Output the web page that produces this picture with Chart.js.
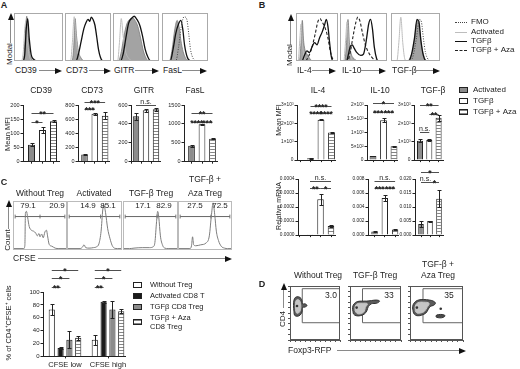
<!DOCTYPE html>
<html>
<head>
<meta charset="utf-8">
<script src="https://cdn.jsdelivr.net/npm/chart.js@4.4.1/dist/chart.umd.min.js"></script>
<style>
  body { margin: 0; background: #fff; }
  #fig { position: relative; width: 520px; height: 369px; overflow: hidden;
         font-family: "Liberation Sans", Arial, sans-serif; color: #222; }
  #fig canvas { position: absolute; }
</style>
</head>
<body>
<div id="fig"></div>
<script>
const FONT = '"Liberation Sans", Arial, sans-serif';
Chart.defaults.font.family = FONT;
Chart.defaults.color = '#222';

// ---- A: surface markers, Mean MFI ----
const groups = ['Activated', 'TGFβ', 'TGFβ + Aza'];
const cd39Mfi = [60, 112, 143];
const cd39Err = [5, 10, 3];
const cd73Mfi = [100, 675, 650];
const cd73Err = [6, 10, 45];
const gitrMfi = [480, 545, 555];
const gitrErr = [40, 15, 15];
const faslMfi = [420, 990, 610];
const faslErr = [30, 8, 8];
// significance: [bar a, bar b, height, label]
const cd39Sig = [[0, 1, 141, '*'], [0, 2, 172, '**']];
const cd73Sig = [[0, 1, 745, '***'], [0, 2, 841, '***']];
const gitrSig = [[0, 2, 600, 'n.s.']];
const faslSig = [[0, 1, 1060, '****'], [1, 2, 1060, '***'], [0, 2, 1293, '**']];

// ---- B: cytokines ----
const il4Mfi = [100, 2200, 1500];
const il4Err = [20, 15, 15];
const il10Mfi = [150, 1450, 500];
const il10Err = [15, 70, 15];
const tgfbMfi = [1050, 1100, 2300];
const tgfbErr = [80, 60, 150];
const il4Sig = [[0, 1, 2571, '****'], [1, 2, 2571, '****'], [0, 2, 2946, '****']];
const il10Sig = [[0, 1, 1750, '***'], [1, 2, 1750, '***'], [0, 2, 2071, '*']];
const tgfbSig = [[0, 1, 1553, 'n.s.'], [1, 2, 2518, '**'], [0, 2, 3000, '**']];

const il4Rna = [0.000002, 0.000255, 0.000065];
const il4RnaErr = [0, 0.00004, 0.00001];
const il10Rna = [0.0005, 0.0053, 0.0008];
const il10RnaErr = [0.00005, 0.0004, 0.00005];
const tgfbRna = [0.004, 0.005, 0.013];
const tgfbRnaErr = [0.0012, 0.0002, 0.003];
const il4RnaSig = [[0, 1, 0.000337, '**'], [1, 2, 0.000337, '*'], [0, 2, 0.000386, 'n.s.']];
const il10RnaSig = [[0, 1, 0.0067, '***'], [1, 2, 0.0067, '***'], [0, 2, 0.0077, 'n.s.']];
const tgfbRnaSig = [[0, 1, 0.0189, 'n.s.'], [1, 2, 0.0189, '*'], [0, 2, 0.0225, '*']];

// ---- C: suppression (CFSE) ----
const cfseCats = ['CFSE low', 'CFSE high'];
const cfseSeries = ['Without Treg', 'Activated CD8 T', 'TGFβ CD8 Treg', 'TGFβ + Aza', 'CD8 Treg'];
const withoutTreg = [73, 26];
const withoutTregErr = [8, 8];
const activatedCd8 = [13, 85];
const activatedCd8Err = [1.5, 1.5];
const tgfbCd8 = [26, 73];
const tgfbCd8Err = [13, 13];
const tgfbAzaCd8 = [29, 70];
const tgfbAzaCd8Err = [3, 3];
// [[series, cat], [series, cat], height, label]
const cfseSig = [
  [[0, 0], [1, 0], 108, '**'], [[0, 0], [2, 0], 122, '*'], [[0, 0], [3, 0], 134, '*'],
  [[0, 1], [1, 1], 108, '**'], [[0, 1], [2, 1], 122, '*'], [[0, 1], [3, 1], 134, '*']
];
const cfseHeads = ['Without Treg', 'Activated', 'TGF-β Treg', 'Aza Treg'];
const cfseGates = [['79.1', '20.9'], ['14.9', '85.1'], ['17.1', '82.9'], ['27.5', '72.5']];
const cfseSplit = [50, 61, 62, 61];

// ---- histogram curves, [x %, y %] ----
const cd39Hist = {
  fill: [[0,0],[17,0],[20,8],[23,55],[26,97],[29,55],[32,18],[36,4],[42,0],[100,0]],
  light: [[0,0],[15,0],[19,20],[22,70],[25,88],[28,40],[32,8],[38,0],[100,0]],
  black: [[0,0],[18,0],[22,15],[25,70],[28,92],[31,50],[35,14],[41,3],[50,0],[100,0]]
};
const cd73Hist = {
  fill: [[0,0],[15,0],[19,30],[22,92],[25,55],[29,22],[34,8],[42,0],[100,0]],
  light: [[0,0],[12,0],[16,40],[20,96],[23,60],[27,25],[33,5],[40,0],[100,0]],
  black: [[0,0],[24,0],[29,14],[35,42],[41,70],[46,84],[50,90],[54,86],[57,95],[61,90],[65,78],[69,52],[73,24],[77,8],[82,0],[100,0]]
};
const gitrHist = {
  fill: [[0,0],[12,0],[18,20],[24,55],[30,80],[36,90],[42,94],[48,88],[54,75],[60,50],[66,22],[72,6],[78,0],[100,0]],
  light: [[0,0],[10,0],[14,40],[18,92],[22,55],[27,22],[34,6],[44,0],[100,0]],
  black: [[0,0],[16,0],[22,15],[28,50],[34,82],[40,92],[46,97],[52,90],[58,78],[64,55],[70,25],[76,8],[82,0],[100,0]]
};
const faslHist = {
  fill: [[0,0],[16,0],[22,25],[28,70],[33,88],[37,75],[41,45],[46,20],[52,5],[58,0],[100,0]],
  black: [[0,0],[18,0],[24,25],[30,60],[36,80],[41,88],[45,70],[49,35],[55,8],[62,0],[100,0]],
  dot: [[0,0],[30,0],[36,30],[42,75],[48,96],[54,90],[58,60],[62,25],[68,5],[74,0],[100,0]]
};
const il4Hist = {
  fill: [[0,0],[8,0],[12,40],[15,88],[18,45],[22,22],[27,14],[33,5],[40,0],[100,0]],
  light: [[0,0],[5,0],[9,45],[12,80],[15,40],[19,10],[26,0],[100,0]],
  dash: [[0,0],[22,0],[30,10],[38,30],[46,60],[52,85],[57,92],[62,85],[70,70],[76,50],[82,20],[88,3],[92,0],[100,0]],
  black: [[0,0],[14,0],[20,12],[26,22],[32,18],[38,30],[44,40],[50,35],[56,50],[62,62],[68,78],[72,90],[76,75],[80,40],[84,10],[88,0],[100,0]]
};
const il10Hist = {
  fill: [[0,0],[10,0],[14,40],[17,90],[20,40],[24,15],[30,5],[38,0],[100,0]],
  light: [[0,0],[8,0],[12,45],[15,85],[18,40],[23,10],[30,0],[100,0]],
  dash: [[0,0],[16,0],[22,20],[28,55],[34,85],[38,95],[42,88],[48,60],[54,35],[60,20],[66,10],[74,2],[80,0],[100,0]],
  black: [[0,0],[14,0],[18,15],[22,32],[26,35],[30,28],[36,18],[44,12],[50,15],[56,45],[61,80],[65,90],[69,70],[73,30],[78,5],[82,0],[100,0]]
};
const tgfbHist = {
  fill: [[0,0],[34,0],[40,10],[46,30],[52,80],[55,88],[58,70],[62,35],[68,8],[74,0],[100,0]],
  light: [[0,0],[12,0],[16,40],[20,95],[24,40],[28,5],[32,0],[100,0]],
  black: [[0,0],[36,0],[42,15],[48,50],[53,90],[57,85],[61,45],[66,12],[72,0],[100,0]],
  dot: [[0,0],[40,0],[46,15],[52,50],[58,90],[62,85],[66,50],[70,20],[76,3],[80,0],[100,0]]
};
const cfseWithout = [[0,3],[20,3],[22,10],[23,78],[25,82],[27,70],[30,50],[34,42],[38,40],[42,36],[45,30],[48,35],[50,28],[53,34],[56,26],[59,38],[62,42],[64,30],[67,12],[72,8],[78,4],[85,3],[100,3]];
const cfseActivated = [[0,3],[24,3],[28,6],[31,11],[34,5],[40,4],[48,5],[54,7],[58,13],[62,40],[65,85],[67,96],[70,80],[74,45],[78,25],[82,10],[86,4],[92,3],[100,3]];
const cfseTgfb = [[0,3],[12,3],[20,4],[35,5],[48,5],[55,7],[58,16],[61,60],[63,82],[65,70],[68,30],[72,10],[76,4],[82,3],[100,3]];
const cfseAza = [[0,3],[22,3],[25,9],[27,28],[29,11],[33,9],[42,11],[52,15],[58,30],[62,75],[65,100],[68,75],[71,40],[75,20],[80,8],[86,4],[92,3],[100,3]];

// ---- D: Foxp3 contours, [x %, y %] ----
const foxp3Heads = ['Without Treg', 'TGF-β Treg', 'Aza Treg'];
const foxp3Pct = ['3.0', '33', '35'];
const noTregOuter = [[8,52],[7,64],[8,74],[11,79],[17,80],[22,77],[24,72],[25,67],[30,67],[34,64],[30,61],[25,60],[24,52],[20,46],[14,44],[9,46],[8,52]];
const noTregInner = [[11,56],[11,68],[13,74],[18,74],[21,68],[21,56],[17,50],[13,50],[11,56]];
const noTregCore = [[14,63]];
const tgfbOuter = [[6,52],[5,60],[8,67],[14,71],[22,72],[32,72],[42,73],[52,74],[58,72],[52,68],[42,67],[36,62],[33,54],[28,48],[20,45],[12,45],[7,48],[6,52]];
const tgfbInner = [[10,54],[10,62],[14,67],[24,68],[34,67],[30,60],[28,53],[22,49],[14,49],[10,54]];
const tgfbCore = [[13,60]];
const azaOuter = [[6,52],[5,62],[9,70],[16,74],[26,75],[36,74],[44,72],[48,68],[44,64],[38,62],[34,56],[30,50],[22,46],[13,45],[8,48],[6,52]];
const azaInner = [[10,54],[10,63],[15,69],[26,70],[36,68],[32,60],[27,53],[20,50],[13,50],[10,54]];
const azaSmall = [[50,42],[49,45],[54,47],[62,47],[66,45],[63,42],[56,41],[50,42]];
const azaCore = [[13,60], [58,58]];

// ---------------------------------------------------------------
const fig = document.getElementById('fig');

function el(css) {
  const d = document.createElement('div');
  d.style.cssText = 'position:absolute;' + css;
  fig.appendChild(d);
  return d;
}

function txt(s, x, y, size = 8, o = {}) {
  const d = el(`left:${x}px;top:${y}px;font-size:${size}px;line-height:1;white-space:nowrap;color:#222;` + (o.bold ? 'font-weight:bold;' : ''));
  d.textContent = s;
  const tx = o.align === 'left' ? '0' : '-50%';
  d.style.transform = `translate(${tx},-50%)` + (o.rot ? ` rotate(${o.rot}deg)` : '');
  return d;
}

function hArrow(x1, x2, y) {
  el(`left:${x1}px;top:${y}px;width:${x2 - x1 - 6}px;border-top:1px solid #8a8a8a;`);
  el(`left:${x2 - 7}px;top:${y - 2.5}px;border-top:3px solid transparent;border-bottom:3px solid transparent;border-left:7px solid #111;`);
}

function vArrow(x, y1, y2) {
  el(`left:${x}px;top:${y1 + 6}px;height:${y2 - y1 - 6}px;border-left:1px solid #8a8a8a;`);
  el(`left:${x - 2.5}px;top:${y1}px;border-left:3px solid transparent;border-right:3px solid transparent;border-bottom:7px solid #111;`);
}

function canvas(x, y, w, h) {
  const c = document.createElement('canvas');
  c.width = w; c.height = h;
  c.style.left = x + 'px'; c.style.top = y + 'px';
  c.style.width = w + 'px'; c.style.height = h + 'px';
  fig.appendChild(c);
  return c;
}

function makeStripes() {
  const c = document.createElement('canvas');
  c.width = 4; c.height = 3;
  const g = c.getContext('2d');
  g.fillStyle = '#fff'; g.fillRect(0, 0, 4, 3);
  g.fillStyle = '#858585'; g.fillRect(0, 0, 4, 1);
  return g.createPattern(c, 'repeat');
}
const STRIPE = makeStripes();
const STRIPE_CSS = 'repeating-linear-gradient(to bottom,#858585 0 1px,#fff 1px 3px)';
const GRAY = '#8c8c8c';
const groupFill = [GRAY, '#ffffff', STRIPE];

// plugins
const errorBars = {
  id: 'errorBars',
  afterDatasetsDraw(chart) {
    const { ctx, scales: { y } } = chart;
    ctx.save();
    ctx.strokeStyle = '#222';
    ctx.lineWidth = 1;
    chart.data.datasets.forEach((ds, i) => {
      if (!ds.err) return;
      chart.getDatasetMeta(i).data.forEach((bar, j) => {
        const v = ds.vals[j], e = ds.err[j];
        if (!e) return;
        const x = Math.round(bar.x) + 0.5;
        const y1 = Math.round(y.getPixelForValue(v + e)) + 0.5;
        const y0 = Math.round(y.getPixelForValue(Math.max(0, v - e))) + 0.5;
        ctx.beginPath();
        ctx.moveTo(x, y0); ctx.lineTo(x, y1);
        ctx.moveTo(x - 2, y1); ctx.lineTo(x + 2, y1);
        ctx.moveTo(x - 2, y0); ctx.lineTo(x + 2, y0);
        ctx.stroke();
      });
    });
    ctx.restore();
  }
};

function sigPlugin(list) {
  return {
    id: 'sig',
    afterDraw(chart) {
      const { ctx, scales: { y } } = chart;
      ctx.save();
      ctx.strokeStyle = '#222';
      ctx.fillStyle = '#222';
      ctx.lineWidth = 0.8;
      ctx.textAlign = 'center';
      ctx.textBaseline = 'alphabetic';
      list.forEach(s => {
        const a = Array.isArray(s[0]) ? s[0] : [0, s[0]];
        const b = Array.isArray(s[1]) ? s[1] : [0, s[1]];
        const xa = chart.getDatasetMeta(a[0]).data[a[1]].x;
        const xb = chart.getDatasetMeta(b[0]).data[b[1]].x;
        const py = Math.round(y.getPixelForValue(s[2])) + 0.5;
        ctx.beginPath(); ctx.moveTo(xa, py); ctx.lineTo(xb, py); ctx.stroke();
        const ns = s[3] === 'n.s.';
        ctx.font = (ns ? '7px ' : 'bold 8.5px ') + FONT;
        ctx.fillText(s[3], (xa + xb) / 2, ns ? py - 1.5 : py + 3.8);
      });
      ctx.restore();
    }
  };
}

function frame(color) {
  return {
    id: 'frame',
    afterDraw(c) {
      const { ctx, chartArea: a } = c;
      ctx.save();
      ctx.strokeStyle = color;
      ctx.lineWidth = 1;
      ctx.strokeRect(Math.round(a.left) + 0.5, Math.round(a.top) + 0.5, Math.round(a.width) - 1, Math.round(a.height) - 1);
      ctx.restore();
    }
  };
}

// bar panel: f = geometry, sets = [{data, err, fill}]
function barPlot(f, sets, yax, sig) {
  const YW = 34, XH = 3;
  const w = YW + f.right - f.ax, h = f.pad + f.zero - f.top + XH;
  const cv = canvas(f.ax - YW, f.top - f.pad, w, h);
  const xmin = -(f.c0 - f.ax) / f.dx;
  const xmax = xmin + (f.right - f.ax) / f.dx;
  return new Chart(cv, {
    type: 'bar',
    data: {
      datasets: sets.map(s => ({
        data: s.data.map((v, i) => ({ x: i, y: v })),
        vals: s.data, err: s.err,
        backgroundColor: s.fill, borderColor: '#222', borderWidth: 1,
        barPercentage: f.bp, categoryPercentage: f.cp
      }))
    },
    options: {
      responsive: false, animation: false, devicePixelRatio: 1,
      layout: { padding: { top: f.pad, left: 0, right: 0, bottom: 0 } },
      plugins: { legend: { display: false }, tooltip: { enabled: false } },
      scales: {
        x: {
          type: 'linear', min: xmin, max: xmax, offset: false,
          grid: { offset: false, drawOnChartArea: false, tickLength: 2, color: '#222' },
          border: { color: '#222' },
          ticks: { display: false, stepSize: 1, includeBounds: false },
          afterFit: s => { s.height = XH; }
        },
        y: {
          min: 0, max: yax.max,
          grid: { drawOnChartArea: false, tickLength: 2.5, color: '#222' },
          border: { color: '#222' },
          ticks: { stepSize: yax.step, autoSkip: false, padding: 1, font: { size: yax.size || 5.5 }, callback: yax.fmt || (v => v) },
          afterFit: s => { s.width = YW; }
        }
      }
    },
    plugins: [errorBars, sigPlugin(sig)]
  });
}

const histStyle = {
  fill: { borderColor: '#7a7a7a', backgroundColor: '#a3a3a3', fill: 'origin', borderWidth: 0.8 },
  light: { borderColor: '#bdbdbd', borderWidth: 1 },
  black: { borderColor: '#111', borderWidth: 1.3 },
  dash: { borderColor: '#222', borderWidth: 1.1, borderDash: [3, 2] },
  dot: { borderColor: '#444', borderWidth: 1, borderDash: [1, 1.5] },
  grey: { borderColor: '#7d7d7d', borderWidth: 1 },
  gate: { borderColor: '#666', borderWidth: 1 }
};

function curve(pts, style) {
  return Object.assign({
    data: pts.map(([x, y]) => ({ x, y })), pointRadius: 0, fill: false,
    cubicInterpolationMode: 'monotone'
  }, histStyle[style]);
}

// layered bottom -> top; chart.js draws dataset 0 on top, so reverse
function histPlot(box, datasets, border) {
  const cv = canvas(box.x, box.y, box.w, box.h);
  new Chart(cv, {
    type: 'line',
    data: { datasets: datasets.slice().reverse() },
    options: {
      responsive: false, animation: false, devicePixelRatio: 1,
      layout: { padding: 0 },
      plugins: { legend: { display: false }, tooltip: { enabled: false } },
      scales: {
        x: { type: 'linear', min: 0, max: 100, display: false },
        y: { min: 0, max: 104, display: false }
      }
    },
    plugins: [frame(border)]
  });
}

function shape(pts, bg, line) {
  return {
    data: pts.map(([x, y]) => ({ x, y })), showLine: true, fill: 'shape', tension: 0.4,
    pointRadius: 0, backgroundColor: bg, borderColor: line || bg, borderWidth: 1
  };
}

function contourPlot(box, datasets) {
  const T = 3;
  const cv = canvas(box.x - T, box.y, box.w + T, box.h + T);
  new Chart(cv, {
    type: 'scatter',
    data: { datasets: datasets.slice().reverse() },
    options: {
      responsive: false, animation: false, devicePixelRatio: 1,
      layout: { padding: 0 },
      plugins: { legend: { display: false }, tooltip: { enabled: false } },
      scales: {
        x: { min: 0, max: 100, ticks: { display: false, stepSize: 10 },
             grid: { drawOnChartArea: false, tickLength: 2, color: '#555' }, border: { color: '#555' },
             afterFit: s => { s.height = T; } },
        y: { min: 0, max: 100, ticks: { display: false, stepSize: 10 },
             grid: { drawOnChartArea: false, tickLength: 2, color: '#555' }, border: { color: '#555' },
             afterFit: s => { s.width = T; } }
      }
    },
    plugins: [frame('#555')]
  });
}

// ================= Panel A =================
txt('A', 4, 5, 9, { bold: true });
const aBoxes = [{ x: 14, y: 13, w: 49, h: 48 }, { x: 65, y: 13, w: 46, h: 48 },
                { x: 113, y: 13, w: 46, h: 48 }, { x: 162, y: 13, w: 46, h: 48 }];
[cd39Hist, cd73Hist, gitrHist, faslHist].forEach((hc, i) => {
  histPlot(aBoxes[i], Object.entries(hc).map(([k, p]) => curve(p, k)), '#aaa');
});
vArrow(10, 13, 43);
txt('Modal', 10, 54, 8, { rot: -90 });
[['CD39', 15, 39, 62], ['CD73', 66, 89, 111], ['GITR', 114, 135, 159], ['FasL', 163, 182, 207]].forEach(([s, x, a1, a2]) => {
  txt(s, x, 70, 8.5, { align: 'left' });
  hArrow(a1, a2, 70);
});

const A = { top: 105, zero: 163, pad: 19, bp: 0.64, cp: 1 };
barPlot({ ...A, ax: 23, c0: 31.5, dx: 11, right: 60 }, [{ data: cd39Mfi, err: cd39Err, fill: groupFill }], { max: 200, step: 50 }, cd39Sig);
barPlot({ ...A, ax: 78, c0: 84.5, dx: 10.3, right: 110 }, [{ data: cd73Mfi, err: cd73Err, fill: groupFill }], { max: 800, step: 200 }, cd73Sig);
barPlot({ ...A, ax: 131, c0: 136, dx: 10, right: 161 }, [{ data: gitrMfi, err: gitrErr, fill: groupFill }], { max: 600, step: 200 }, gitrSig);
barPlot({ ...A, ax: 184, c0: 191.5, dx: 10.5, right: 218 }, [{ data: faslMfi, err: faslErr, fill: groupFill }], { max: 1500, step: 500 }, faslSig);
txt('CD39', 41, 90, 8.5);
txt('CD73', 92, 90, 8.5);
txt('GITR', 144, 90, 8.5);
txt('FasL', 195, 90, 8.5);
txt('Mean MFI', 8, 134, 7.5, { rot: -90 });

// ================= Panel B =================
txt('B', 262, 5, 9, { bold: true });
const bBoxes = [{ x: 296, y: 13, w: 42, h: 48 }, { x: 340, y: 13, w: 47, h: 48 }, { x: 391, y: 13, w: 49, h: 48 }];
[il4Hist, il10Hist, tgfbHist].forEach((hc, i) => {
  histPlot(bBoxes[i], Object.entries(hc).map(([k, p]) => curve(p, k)), '#aaa');
});
vArrow(290, 14, 45);
txt('Modal', 290, 55, 8, { rot: -90 });
[['IL-4', 297, 312, 336], ['IL-10', 342, 361, 386], ['TGF-β', 392, 414, 440]].forEach(([s, x, a1, a2]) => {
  txt(s, x, 70, 8.5, { align: 'left' });
  hArrow(a1, a2, 70);
});
// histogram legend
[['FMO', 'dotted', '#444', 22], ['Activated', 'solid', '#bdbdbd', 32], ['TGFβ', 'solid', '#111', 41], ['TGFβ + Aza', 'dashed', '#222', 50]].forEach(([s, st, c, y]) => {
  el(`left:455px;top:${y}px;width:12px;border-top:1.2px ${st} ${c};`);
  txt(s, 471, y, 8, { align: 'left' });
});

const sci = v => (v === 0 ? '0' : v >= 1000 ? (v / 1000) + '×10³' : (v / 100) + '×10²');
const BM = { top: 105, zero: 161, pad: 16, bp: 0.65, cp: 1 };
barPlot({ ...BM, ax: 297, c0: 310.5, dx: 10.5, right: 336 }, [{ data: il4Mfi, err: il4Err, fill: groupFill }], { max: 3000, step: 1000, fmt: sci, size: 4.8 }, il4Sig);
barPlot({ ...BM, ax: 367, c0: 373, dx: 10.5, right: 398 }, [{ data: il10Mfi, err: il10Err, fill: groupFill }], { max: 2000, step: 500, fmt: sci, size: 4.8 }, il10Sig);
barPlot({ ...BM, ax: 414, c0: 420, dx: 9.3, right: 444 }, [{ data: tgfbMfi, err: tgfbErr, fill: groupFill }], { max: 3000, step: 1000, fmt: sci, size: 4.8 }, tgfbSig);
const BR = { top: 179, zero: 236, pad: 17, bp: 0.62, cp: 1 };
barPlot({ ...BR, ax: 298, c0: 310, dx: 10.5, right: 336 }, [{ data: il4Rna, err: il4RnaErr, fill: groupFill }], { max: 0.0004, step: 0.0001, fmt: v => v.toFixed(4), size: 4.8 }, il4RnaSig);
barPlot({ ...BR, ax: 368, c0: 374.5, dx: 10.3, right: 399 }, [{ data: il10Rna, err: il10RnaErr, fill: groupFill }], { max: 0.008, step: 0.002, fmt: v => v.toFixed(3), size: 4.8 }, il10RnaSig);
barPlot({ ...BR, ax: 415, c0: 421, dx: 9, right: 444 }, [{ data: tgfbRna, err: tgfbRnaErr, fill: groupFill }], { max: 0.02, step: 0.005, fmt: v => v.toFixed(3), size: 4.8 }, tgfbRnaSig);
txt('IL-4', 318, 90, 8.5);
txt('IL-10', 380, 90, 8.5);
txt('TGF-β', 433, 90, 8.5);
txt('Mean MFI', 278, 120, 7, { rot: -90 });
txt('Relative mRNA', 278, 206, 7, { rot: -90 });
// bar legend
[[GRAY, 90], ['#fff', 101], [STRIPE_CSS, 112]].forEach(([bg, y], i) => {
  el(`left:459px;top:${y - 3}px;width:9px;height:6px;box-sizing:border-box;border:1px solid #222;background:${bg};`);
  txt(groups[i], 473, y, 8, { align: 'left' });
});

// ================= Panel C =================
txt('C', 4, 182, 9, { bold: true });
const cBoxes = [{ x: 13, y: 201, w: 54, h: 49 }, { x: 67, y: 201, w: 55, h: 49 },
                { x: 123, y: 201, w: 55, h: 49 }, { x: 178, y: 201, w: 54, h: 49 }];
const gateY = 71;
[cfseWithout, cfseActivated, cfseTgfb, cfseAza].forEach((pts, i) => {
  const s = cfseSplit[i];
  histPlot(cBoxes[i], [
    curve([[4, gateY], [96, gateY]], 'gate'),
    curve([[4, gateY - 4], [4, gateY + 4]], 'gate'),
    curve([[96, gateY - 4], [96, gateY + 4]], 'gate'),
    curve([[s, gateY - 4], [s, gateY + 4]], 'gate'),
    curve(pts, 'grey')
  ], '#bbb');
});
[[40, 193], [94, 193], [151, 193], [205, 193]].forEach(([x, y], i) => txt(cfseHeads[i], x, y, 8.5));
txt('TGF-β +', 205, 179, 8.5);
[[28, 57], [88, 108], [143, 164], [195, 220]].forEach(([x1, x2], i) => {
  txt(cfseGates[i][0], x1, 206, 8);
  txt(cfseGates[i][1], x2, 206, 8);
});
vArrow(8, 200, 229);
txt('Count', 8, 240, 8, { rot: -90 });
txt('CFSE', 13, 258, 8.5, { align: 'left' });
hArrow(38, 232, 258);

const cfseChart = barPlot({ ax: 43, c0: 65, dx: 43, right: 126, top: 292, zero: 358, pad: 32, bp: 0.7, cp: 0.82 }, [
  { data: withoutTreg, err: withoutTregErr, fill: '#fff' },
  { data: activatedCd8, err: activatedCd8Err, fill: '#1a1a1a' },
  { data: tgfbCd8, err: tgfbCd8Err, fill: GRAY },
  { data: tgfbAzaCd8, err: tgfbAzaCd8Err, fill: STRIPE }
], { max: 100, step: 20, size: 6 }, cfseSig);
// category labels under the group centres of the x scale
cfseCats.forEach((c, i) => {
  const sx = cfseChart.scales.x;
  txt(c, parseFloat(cfseChart.canvas.style.left) + sx.getPixelForValue(i), 365, 7.5);
});
txt('% of CD4⁺CFSE⁺ cells', 9, 323, 7.5, { rot: -90 });
[['#fff', 285], ['#1a1a1a', 296], [GRAY, 307], [STRIPE_CSS, 322]].forEach(([bg, y]) => {
  el(`left:133px;top:${y - 3}px;width:9px;height:6px;box-sizing:border-box;border:1px solid #222;background:${bg};`);
});
[[285], [296], [307], [318], [327]].forEach(([y], i) => txt(cfseSeries[i], 150, y, 7.5, { align: 'left' }));

// ================= Panel D =================
txt('D', 262, 284, 9, { bold: true });
const dBoxes = [{ x: 289, y: 282, w: 55, h: 59 }, { x: 349, y: 282, w: 56, h: 59 }, { x: 409, y: 282, w: 58, h: 59 }];
const gatePts = [[102, 32], [24.5, 32], [24.5, 95], [102, 95]];
const coreStyle = pts => ({ data: pts.map(([x, y]) => ({ x, y })), pointRadius: 1.3, pointBackgroundColor: '#333', pointBorderWidth: 0, showLine: false });
const gateSet = { data: gatePts.map(([x, y]) => ({ x, y })), showLine: true, pointRadius: 0, borderColor: '#666', borderWidth: 1, fill: false };
contourPlot(dBoxes[0], [gateSet, shape(noTregOuter, '#5a5a5a', '#333'), shape(noTregInner, '#c6c6c6'), coreStyle(noTregCore)]);
contourPlot(dBoxes[1], [gateSet, shape(tgfbOuter, '#5a5a5a', '#333'), shape(tgfbInner, '#c6c6c6'), coreStyle(tgfbCore)]);
contourPlot(dBoxes[2], [gateSet, shape(azaSmall, '#4a4a4a', '#333'), shape(azaOuter, '#5a5a5a', '#333'), shape(azaInner, '#c6c6c6'), coreStyle(azaCore)]);
[[318, 275], [375, 275], [438, 275]].forEach(([x, y], i) => txt(foxp3Heads[i], x, y, 8.5));
txt('TGF-β +', 438, 264, 8.5);
[[331, 295], [389, 295], [449, 295]].forEach(([x, y], i) => txt(foxp3Pct[i], x, y, 8.5));
vArrow(283, 283, 308);
txt('CD4', 283, 319, 8, { rot: -90 });
txt('Foxp3-RFP', 288, 350, 8.5, { align: 'left' });
hArrow(337, 466, 350);
</script>
</body>
</html>
